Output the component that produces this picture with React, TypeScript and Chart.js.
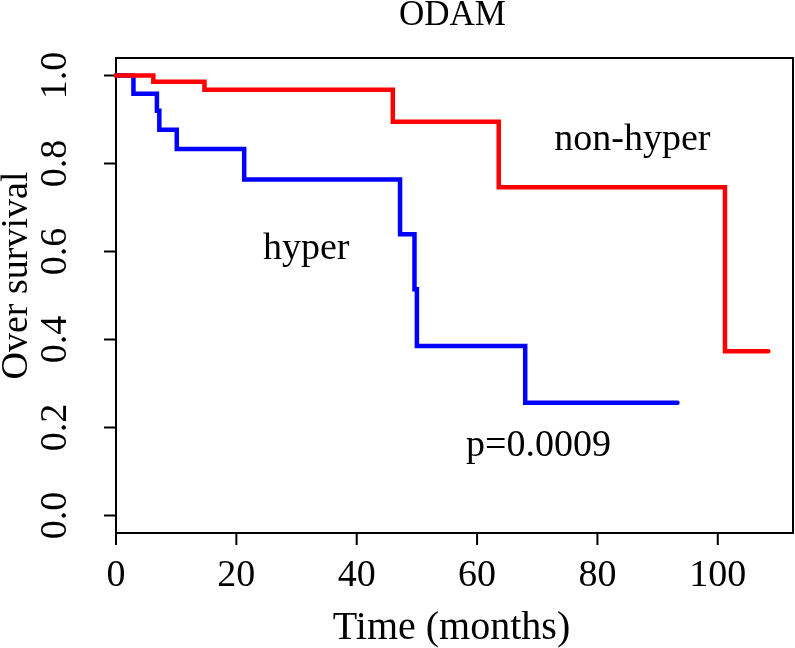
import React, { useEffect, useRef } from "react";
import { Chart, registerables } from "chart.js";

Chart.register(...registerables);

const chartTitle = "ODAM";
const xAxisTitle = "Time (months)";
const yAxisTitle = "Over survival";

const xTickValues = [0, 20, 40, 60, 80, 100];
const yTickValues = [0, 0.2, 0.4, 0.6, 0.8, 1.0];
const yTickLabels = ["0.0", "0.2", "0.4", "0.6", "0.8", "1.0"];

// non-hyper (red) Kaplan-Meier curve
const redTimes = [0, 6.2, 14.7, 46.0, 63.6, 101.2, 108.4];
const redSurvival = [1.0, 0.986, 0.968, 0.895, 0.746, 0.373, 0.373];

// hyper (blue) Kaplan-Meier curve
const blueTimes = [0, 2.9, 6.8, 7.2, 10.1, 21.3, 47.2, 49.6, 50.0, 68.0, 93.3];
const blueSurvival = [1.0, 0.959, 0.92, 0.877, 0.833, 0.764, 0.639, 0.514, 0.385, 0.256, 0.256];

// in-plot annotations (data coordinates)
const annotationTexts = ["non-hyper", "hyper", "p=0.0009"];
const annotationX = [85.8, 31.6, 70.2];
const annotationY = [0.831, 0.582, 0.134];

const FONT = '"Liberation Serif", "Times New Roman", serif';

const decorPlugin = {
  id: "rDecor",
  beforeDatasetsDraw(chart: any) {
    const { ctx, chartArea } = chart;
    const { left, right, top, bottom } = chartArea;
    const xs = chart.scales.x;
    const ys = chart.scales.y;
    ctx.save();
    ctx.strokeStyle = "#000";
    ctx.lineWidth = 2;
    ctx.strokeRect(left, top, right - left, bottom - top);
    ctx.beginPath();
    xTickValues.forEach((v) => {
      const px = xs.getPixelForValue(v);
      ctx.moveTo(px, bottom);
      ctx.lineTo(px, bottom + 12);
    });
    yTickValues.forEach((v) => {
      const py = ys.getPixelForValue(v);
      ctx.moveTo(left, py);
      ctx.lineTo(left - 12, py);
    });
    ctx.stroke();
    ctx.fillStyle = "#000";
    ctx.font = `38px ${FONT}`;
    ctx.textAlign = "center";
    ctx.textBaseline = "alphabetic";
    xTickValues.forEach((v) => {
      const px = xs.getPixelForValue(v);
      ctx.fillText(String(v), px, bottom + 53);
    });
    yTickValues.forEach((v, i) => {
      const py = ys.getPixelForValue(v);
      ctx.save();
      ctx.translate(left - 50, py);
      ctx.rotate(-Math.PI / 2);
      ctx.fillText(yTickLabels[i], 0, 0);
      ctx.restore();
    });
    const cx = (left + right) / 2;
    const cy = (top + bottom) / 2;
    ctx.save();
    ctx.translate(left - 89, cy - 20);
    ctx.rotate(-Math.PI / 2);
    ctx.fillText(yAxisTitle, 0, 0);
    ctx.restore();
    annotationTexts.forEach((t, i) => {
      ctx.fillText(t, xs.getPixelForValue(annotationX[i]), ys.getPixelForValue(annotationY[i]));
    });
    ctx.font = `40px ${FONT}`;
    ctx.fillText(xAxisTitle, cx - 3, bottom + 106);
    ctx.font = `35px ${FONT}`;
    ctx.fillText(chartTitle, cx - 2, top - 33);
    ctx.restore();
  },
};

export default function App() {
  const canvasRef = useRef<HTMLCanvasElement | null>(null);
  useEffect(() => {
    if (!canvasRef.current) return;
    const mk = (times: number[], surv: number[]) => times.map((t, i) => ({ x: t, y: surv[i] }));
    const chart = new Chart(canvasRef.current, {
      type: "line",
      data: {
        datasets: [
          {
            label: "non-hyper",
            data: mk(redTimes, redSurvival),
            borderColor: "#FF0000",
            borderWidth: 4.5,
            stepped: "before",
            pointRadius: 0,
            fill: false,
            borderCapStyle: "round",
            borderJoinStyle: "miter",
            clip: false,
          } as any,
          {
            label: "hyper",
            data: mk(blueTimes, blueSurvival),
            borderColor: "#0000FF",
            borderWidth: 4.5,
            stepped: "before",
            pointRadius: 0,
            fill: false,
            borderCapStyle: "round",
            borderJoinStyle: "miter",
            clip: false,
          } as any,
        ],
      },
      options: {
        animation: false,
        responsive: false,
        devicePixelRatio: 1,
        layout: { padding: { left: 116, top: 58, right: 2, bottom: 115 } },
        plugins: { legend: { display: false }, tooltip: { enabled: false }, title: { display: false } },
        scales: {
          x: { type: "linear", min: 0, max: 112.5, display: false },
          y: { type: "linear", min: -0.04, max: 1.04, display: false },
        },
      },
      plugins: [decorPlugin],
    });
    return () => chart.destroy();
  }, []);
  return (
    <div style={{ position: "fixed", left: 0, top: 0, width: 795, height: 648, background: "#fff" }}>
      <canvas ref={canvasRef} width={795} height={648} style={{ display: "block" }} />
    </div>
  );
}
